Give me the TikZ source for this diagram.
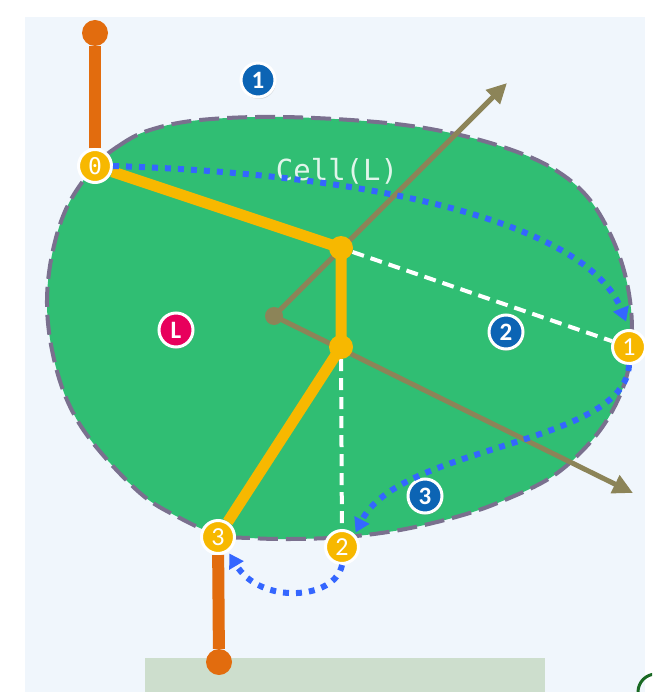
\documentclass[tikz,border=0pt]{standalone}
\usepackage{fontspec}
\setmainfont{Carlito}
\newfontfamily\cellfont{DejaVu Sans Mono}
\usetikzlibrary{arrows.meta,shadows}
\definecolor{pagebg}{RGB}{240,246,252}
\definecolor{cellgreen}{RGB}{48,190,115}
\definecolor{rimgray}{RGB}{122,112,142}
\definecolor{pathyellow}{RGB}{247,184,0}
\definecolor{stemorange}{RGB}{226,108,14}
\definecolor{vecolive}{RGB}{140,132,88}
\definecolor{walkblue}{RGB}{52,102,255}
\definecolor{tagblue}{RGB}{12,100,180}
\definecolor{tagpink}{RGB}{232,0,92}
\definecolor{stripgreen}{RGB}{205,222,205}
\definecolor{ringgreen}{RGB}{25,105,35}
\pgfdeclarelayer{base}
\pgfdeclarelayer{back}
\pgfsetlayers{base,back,main}

\begin{document}
\begin{tikzpicture}[x=1pt, y=-1pt,
                    vec/.style={draw=vecolive, line width=5pt, -{Triangle[length=20pt,width=19pt]}},
                    walk/.style={draw=walkblue, line width=6pt, dash pattern=on 6pt off 7pt, -{Triangle[length=14pt,width=16pt]}},
                    probe/.style={draw=white, line width=4pt, dash pattern=on 12pt off 7pt},
                    route/.style={draw=pathyellow, line width=11pt, line join=round},
                    stem/.style={draw=stemorange, line width=12pt}]
    \tikzstyle{hit}=[circle,fill=pathyellow,draw=white,line width=3pt,minimum size=33pt,inner sep=0pt,text=white,font=\fontsize{26}{26}\selectfont]
    \tikzstyle{hitzero}=[hit,font=\cellfont\fontsize{23}{23}\selectfont]
    \tikzstyle{joint}=[circle,fill=pathyellow,minimum size=24pt,inner sep=0pt]
    \tikzstyle{stemend}=[circle,fill=stemorange,minimum size=26pt,inner sep=0pt]
    \tikzstyle{tag}=[circle,fill=tagblue,draw=white,line width=3pt,minimum size=34pt,inner sep=0pt,text=white,
                     font=\bfseries\fontsize{25}{25}\selectfont,
                     drop shadow={opacity=0.25,shadow xshift=1pt,shadow yshift=-2pt}]
    \tikzstyle{celltag}=[tag,fill=tagpink]

    \useasboundingbox (0,0) rectangle (652,692);

    \node[hitzero] (n0) at (95,166) {0};
    \node[hit] (n1) at (629,347) {1};
    \node[hit] (n2) at (342,547) {2};
    \node[hit] (n3) at (218,537) {3};
    \node[joint] (ja) at (341,248) {};
    \node[joint] (jb) at (341,347) {};
    \node[circle,fill=vecolive,minimum size=18pt,inner sep=0pt] (ctr) at (274,316) {};
    \node[stemend] (topEnd) at (95,33) {};
    \node[stemend] (botEnd) at (219,662) {};
    \coordinate (tipU) at (507,83);
    \coordinate (tipD) at (633,493);

    \node[tag] (b1) at (258,80) {1};
    \node[tag] (b2) at (506,332) {2};
    \node[tag] (b3) at (425,496) {3};
    \node[celltag] (bL) at (176,330) {L};
    \node[anchor=base,text=white!85!cellgreen,font=\cellfont\fontsize{29}{29}\selectfont] (cell) at (337,181) {Cell(L)};

    \begin{pgfonlayer}{base}
        \fill[white] (0,0) rectangle (652,692);
        \fill[pagebg] (25,17) rectangle (645,692);
        \fill[stripgreen] (145,658) rectangle (545,692);
        \begin{scope}
            \clip (0,0) rectangle (652,692);
            \draw[ringgreen, line width=3pt] (656,692) circle (18);
        \end{scope}
        \filldraw[fill=cellgreen, draw=rimgray, line width=4pt, dash pattern=on 20pt off 8pt]
            plot[smooth cycle, tension=0.6] coordinates {
                (95,166) (120,145) (150,130) (200,120) (283,117) (387,123) (460,135)
                (520,153) (560,173) (590,200) (613,240) (627,283) (632,330) (627,375)
                (610,415) (585,448) (550,478) (500,502) (456,517) (400,530) (345,537)
                (290,539) (250,538) (218,535) (178,517) (140,493) (93,443) (67,400)
                (52,350) (47,300) (53,250) (68,205)};
    \end{pgfonlayer}

    \begin{pgfonlayer}{back}
        \draw[probe] (ja) -- (n1);
        \draw[probe] (jb) -- (n2);
        \draw[vec] (ctr.center) -- (tipU);
        \draw[vec] (ctr.center) -- (tipD);
        \draw[stem] (topEnd) -- (n0);
        \draw[stem] (n3) -- (botEnd);
        \draw[route] (n0) -- (ja.center) -- (jb.center) -- (n3);
    \end{pgfonlayer}

    \draw[walk, shorten >=8pt] (n0.east) .. controls (400,175) and (590,230) .. (n1.north);
    \draw[walk, shorten >=2pt] (n1.south) .. controls (625,445) and (400,445) .. (n2.45);
    \draw[walk, shorten >=2pt] (n2.south) .. controls (335,600) and (260,605) .. (n3.-55);
\end{tikzpicture}
\end{document}
